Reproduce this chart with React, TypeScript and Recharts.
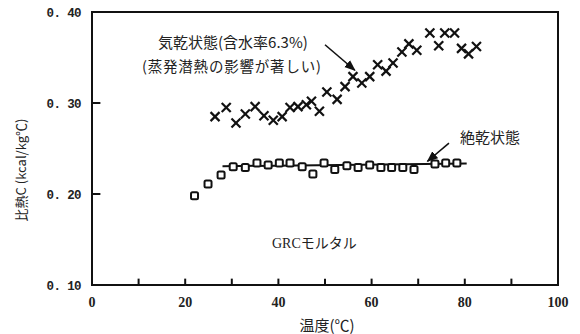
import React from "react";
import {
  ComposedChart,
  Scatter,
  Line,
  XAxis,
  YAxis,
  ReferenceArea,
  ReferenceLine,
} from "recharts";

// 気乾状態 (air-dry, x markers)
const airDryTemp = [
  26.4, 28.8, 30.9, 32.9, 35.0, 36.9, 38.9, 40.8, 42.5, 44.2, 46.0, 47.1, 48.8,
  50.4, 52.6, 54.3, 56.0, 57.9, 59.6, 61.3, 63.1, 64.6, 66.5, 68.0, 69.7, 72.5,
  74.4, 75.7, 77.8, 79.3, 80.8, 82.5,
];
const airDryHeat = [
  0.285, 0.295, 0.278, 0.288, 0.296, 0.286, 0.281, 0.285, 0.295, 0.296, 0.298,
  0.302, 0.291, 0.312, 0.304, 0.318, 0.329, 0.322, 0.329, 0.342, 0.335, 0.344,
  0.356, 0.365, 0.358, 0.377, 0.363, 0.377, 0.377, 0.36, 0.354, 0.362,
];

// 絶乾状態 (oven-dry, squares)
const ovenDryTemp = [
  22.0, 24.9, 27.7, 30.3, 32.9, 35.4, 37.8, 40.2, 42.5, 45.1, 47.4, 49.8, 52.1,
  54.7, 57.1, 59.6, 62.0, 64.3, 66.7, 69.1, 73.6, 75.9, 78.3,
];
const ovenDryHeat = [
  0.198, 0.211, 0.221, 0.23, 0.229, 0.234, 0.232, 0.234, 0.234, 0.23, 0.222,
  0.234, 0.227, 0.231, 0.229, 0.232, 0.229, 0.229, 0.229, 0.227, 0.233, 0.234,
  0.234,
];

// fitted line through oven-dry points
const fitTemp = [28, 80.4];
const fitHeat = [0.2305, 0.2335];

const xTicks = [0, 10, 20, 30, 40, 50, 60, 70, 80, 90, 100];
const yTicks = [0.1, 0.2, 0.3, 0.4];

const airDry = airDryTemp.map((x, i) => ({ x, y: airDryHeat[i] }));
const ovenDry = ovenDryTemp.map((x, i) => ({ x, y: ovenDryHeat[i] }));
const fit = fitTemp.map((x, i) => ({ x, y: fitHeat[i] }));

const CJK = "'Noto Sans CJK JP', sans-serif";

const Cross = (props: any) => {
  const { cx, cy } = props;
  const s = 4.5;
  return (
    <g stroke="#111" strokeWidth={2.2}>
      <line x1={cx - s} y1={cy - s} x2={cx + s} y2={cy + s} />
      <line x1={cx - s} y1={cy + s} x2={cx + s} y2={cy - s} />
    </g>
  );
};

const Square = (props: any) => {
  const { cx, cy } = props;
  return (
    <rect
      x={cx - 3.5}
      y={cy - 3.5}
      width={7}
      height={7}
      rx={1.5}
      fill="#fff"
      stroke="#111"
      strokeWidth={2}
    />
  );
};

const XTick = (props: any) => {
  const { x, y, payload } = props;
  const v = payload.value;
  if (v % 20 !== 0) return <g />;
  return (
    <text
      x={x}
      y={y + 22}
      textAnchor="middle"
      fontFamily="'Liberation Serif', serif"
      fontWeight="bold"
      fontSize={14}
      fill="#222"
    >
      {v}
    </text>
  );
};

const YTick = (props: any) => {
  const { x, y, payload } = props;
  const v = payload.value;
  return (
    <text
      x={x}
      y={y + 4.5}
      textAnchor="end"
      fontFamily="'Liberation Mono', monospace"
      fontWeight="bold"
      fontSize={12.5}
      letterSpacing={-0.6}
      fill="#222"
    >
      {v.toFixed(2).replace(".", ". ")}
    </text>
  );
};

export default function App() {
  const innerX = xTicks.filter((t) => t > 0 && t < 100);
  const innerY = yTicks.filter((t) => t > 0.15 && t < 0.35);
  return (
    <div style={{ position: "absolute", left: 0, top: 0, background: "#fff" }}>
      <ComposedChart
        width={580}
        height={334}
        margin={{ top: 12, right: 22, bottom: 19, left: 0 }}
      >
        <defs>
          <marker
            id="arrowHead"
            viewBox="0 0 10 10"
            refX="9"
            refY="5"
            markerWidth="7"
            markerHeight="7"
            orient="auto"
          >
            <path d="M0,1 L10,5 L0,9 z" fill="#111" />
          </marker>
        </defs>
        <XAxis
          type="number"
          dataKey="x"
          domain={[0, 100]}
          ticks={xTicks}
          interval={0}
          allowDataOverflow
          height={30}
          tickSize={0}
          tickMargin={0}
          axisLine={false}
          tickLine={false}
          tick={<XTick />}
        />
        <YAxis
          type="number"
          dataKey="y"
          domain={[0.1, 0.4]}
          ticks={yTicks}
          interval={0}
          allowDataOverflow
          width={92}
          tickSize={0}
          tickMargin={11}
          axisLine={false}
          tickLine={false}
          tick={<YTick />}
        />
        <ReferenceArea
          x1={0}
          x2={100}
          y1={0.1}
          y2={0.4}
          fill="none"
          stroke="#111"
          strokeWidth={2}
          fillOpacity={0}
        />
        {innerX.map((t) => (
          <ReferenceLine
            key={"xt" + t}
            segment={[
              { x: t, y: 0.1 },
              { x: t, y: 0.107 },
            ]}
            stroke="#111"
            strokeWidth={2}
          />
        ))}
        {innerY.map((t) => (
          <ReferenceLine
            key={"yt" + t}
            segment={[
              { x: 0, y: t },
              { x: 1.8, y: t },
            ]}
            stroke="#111"
            strokeWidth={2}
          />
        ))}
        <Line
          data={fit}
          dataKey="y"
          type="linear"
          stroke="#111"
          strokeWidth={2}
          dot={false}
          activeDot={false}
          isAnimationActive={false}
        />
        <Scatter data={airDry} shape={<Cross />} isAnimationActive={false} />
        <Scatter data={ovenDry} shape={<Square />} isAnimationActive={false} />
        <ReferenceLine
          segment={[
            { x: 50.0, y: 0.364 },
            { x: 56.4, y: 0.336 },
          ]}
          stroke="#111"
          strokeWidth={1.6}
          markerEnd="url(#arrowHead)"
        />
        <ReferenceLine
          segment={[
            { x: 76.6, y: 0.256 },
            { x: 72.0, y: 0.236 },
          ]}
          stroke="#111"
          strokeWidth={1.6}
          markerEnd="url(#arrowHead)"
        />
        <text x={158} y={48} fontFamily={CJK} fontSize={15} fill="#222">
          気乾状態(含水率6.3%)
        </text>
        <text x={142} y={72} fontFamily={CJK} fontSize={14.5} fill="#222" letterSpacing={0.8}>
          (蒸発潜熱の影響が著しい)
        </text>
        <text x={460} y={143} fontFamily={CJK} fontSize={15} fill="#222">
          絶乾状態
        </text>
        <text x={272} y={248} fontFamily={CJK} fontSize={14} fill="#222">
          <tspan fontFamily="'Liberation Serif', serif">GRC</tspan>モルタル
        </text>
        <text x={327} y={331} textAnchor="middle" fontFamily={CJK} fontSize={15} fill="#222">
          温度(℃)
        </text>
        <text
          x={26}
          y={170}
          textAnchor="middle"
          transform="rotate(-90 26 170)"
          fontFamily={CJK}
          fontSize={13}
          fill="#222"
        >
          比熱C (kcal/kg℃)
        </text>
      </ComposedChart>
    </div>
  );
}
